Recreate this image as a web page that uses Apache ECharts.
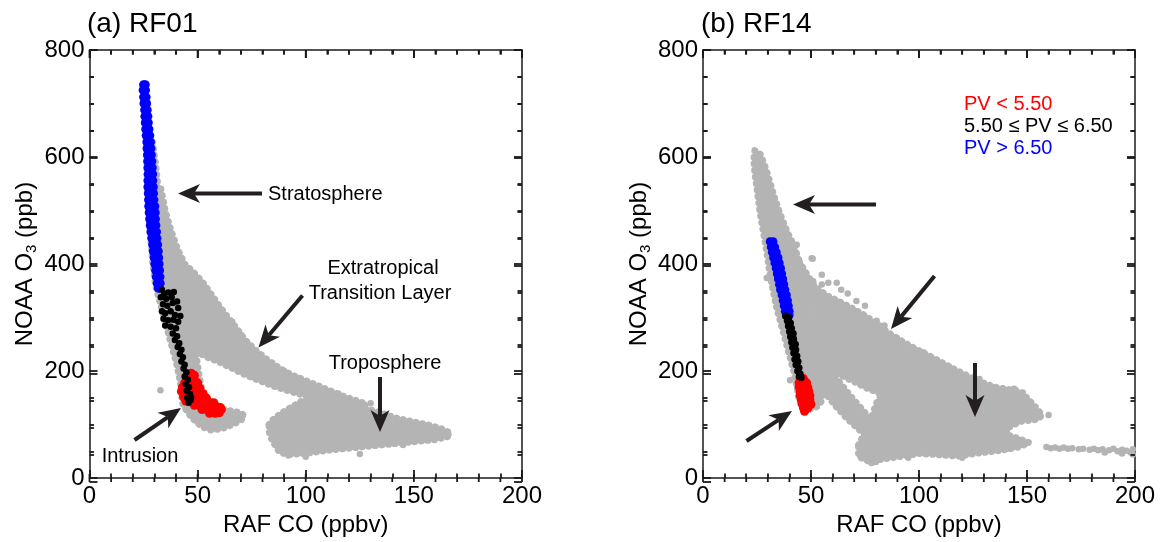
<!DOCTYPE html>
<html><head><meta charset="utf-8">
<script src="https://cdn.jsdelivr.net/npm/echarts/dist/echarts.min.js"></script>
<style>html,body{margin:0;padding:0;background:#fff}#c{width:1160px;height:542px}</style>
</head><body><div id="c"></div>
<script>
// ---------------- DATA ----------------
const panelTitles = ['(a) RF01', '(b) RF14'];
const xTickValues = [0, 50, 100, 150, 200];
const yTickValues = [0, 200, 400, 600, 800];
const legendLabels = ['PV < 5.50', '5.50 \u2264 PV \u2264 6.50', 'PV > 6.50'];

// RF01: dense gray clouds (outline vertices, CO ppbv / O3 ppb)
const rf01GrayStrip = [[26.5,650],[26.5,600],[26.8,550],[27.3,500],[28.3,450],[29.3,400],[30.5,360],[32.5,330],[34.5,300],[36.5,270],[38.5,240],[40.5,210],[42,180],[42.5,160],[43,140],[45,125],[48,110],[52,96],[56,90],[61,92],[66,100],[70,108],[71.5,116],[70,122],[65,126],[61,130],[58,140],[54,150],[52,165],[51,185],[50,210],[49,240],[47,270],[45,300],[43,330],[40,360],[37,390],[35,430],[33.5,470],[32.5,510],[31.5,550],[30.5,590],[29,630]];
const rf01GrayETL = [[33,540],[35,500],[37.5,465],[40.5,430],[44,400],[48,385],[52,368],[56,345],[60,322],[64,300],[68,280],[72,258],[77,238],[82,222],[88,205],[94,192],[100,182],[106,172],[112,162],[118,152],[124,144],[128,138],[124,134],[116,140],[108,146],[100,154],[92,163],[85,172],[78,183],[71,195],[65,207],[60,217],[55,225],[50,235],[46,260],[42,300],[38,350],[35,400],[33,450],[31.5,500]];
const rf01GrayTropo = [[83,100],[85,110],[89,122],[94,134],[99,146],[104,150],[110,146],[116,140],[122,136],[128,130],[136,120],[142,112],[150,105],[157,99],[163,92],[166,86],[166,78],[160,72],[150,68],[140,64],[130,60],[120,56],[110,52],[100,46],[92,44],[88,48],[86,60],[84,75],[83,88]];
const rf01GrayDots = [[32.8,164],[66,292],[70,268],[73,249],[76,236],[80,222],[84.5,203],[90,200],[97,187],[108.4,163],[115,158],[122,144],[130,140],[140,110],[85,175],[95,162],[125,45],[145,62],[155,72],[160,80],[163,85],[166,82],[100,40],[92,42],[88,52],[120,125],[131,118],[148,100],[152,92],[44,390],[41,420],[38,455],[68,112],[71,118],[62,95]];
const rf01Blue = [[25.0,735],[25.8,735],[24.8,725],[25.9,725],[25.0,712],[26.2,712],[25.2,700],[26.4,700],[25.5,688],[26.7,688],[25.6,676],[27.0,676],[25.8,664],[27.2,664],[26.0,652],[27.5,652],[26.2,640],[27.9,640],[26.5,628],[28.2,628],[26.6,616],[28.4,616],[26.8,604],[28.6,604],[26.9,592],[28.8,592],[27.0,580],[29.0,580],[27.1,568],[29.2,568],[27.0,556],[28.5,556],[29.3,556],[27.0,544],[29.5,544],[27.2,532],[29.6,532],[27.3,520],[28.4,520],[29.8,520],[27.4,508],[30.2,508],[27.6,496],[30.4,496],[29.0,490],[27.8,484],[30.5,484],[28.1,472],[30.7,472],[28.4,460],[29.6,460],[31.0,460],[28.8,448],[31.2,448],[29.2,436],[31.5,436],[30.3,430],[29.5,424],[31.8,424],[29.9,412],[32.0,412],[30.2,400],[32.2,400],[30.6,388],[32.4,388],[30.9,376],[32.6,376],[31.3,364],[32.7,364],[31.8,355],[32.4,355]];
const rf01Black = [[33.5,352],[34.5,345],[36.5,347],[39,348],[33,338],[35.5,335],[38,338],[40.5,330],[34,325],[36,322],[38.5,327],[41,318],[33.5,312],[35,308],[37.5,312],[39.5,305],[42,303],[34.2,298],[36.3,295],[38.8,296],[41,292],[35,285],[37.5,283],[40,280],[38.5,270],[40.5,265],[39.5,258],[41.5,252],[40.8,245],[42.5,240],[41.8,232],[43.2,226],[42.5,218],[44,212],[43.5,205],[44.8,198],[44,190],[45.5,184],[44.5,176],[46,170],[45,163],[46.5,157],[45.2,150],[46.8,146],[45.8,141],[47,150]];
const rf01Red = [[47,196],[48.5,192],[46.5,185],[48.5,183],[50,178],[44,178],[47.5,175],[49.5,170],[51,168],[43,170],[45.5,168],[42.5,162],[44.5,160],[48,162],[50.5,160],[52.5,158],[43.5,152],[46,150],[49,152],[51.5,150],[54,150],[44.5,144],[47.5,142],[50,142],[52.5,142],[55,143],[57.5,141],[48.5,136],[51,135],[53.5,135],[56,134],[58.5,134],[60.5,132],[52,128],[54.5,127],[57,127],[59.5,127],[61,128],[55.5,121],[58,121],[60,122]];

// RF14
const rf14GrayStrip = [[24,612],[23.5,595],[24,570],[25,540],[26.3,500],[27.5,470],[28.8,440],[30,410],[31,380],[32.5,350],[34,320],[36,290],[38,260],[40,230],[42,200],[43.5,170],[44.5,145],[46,132],[49,128],[53,134],[55,145],[55,160],[54.5,190],[53.5,225],[52.5,260],[51,295],[49.5,330],[47.5,365],[45,400],[42,435],[39,460],[36,490],[33,525],[30.5,560],[28.5,585],[26.5,605]];
const rf14GrayMid = [[43,415],[46,395],[49,375],[52,357],[57,342],[62,332],[68,320],[74,306],[80,290],[86,271],[92,256],[99,240],[105,228],[111,215],[117,202],[123,190],[129,179],[135,170],[141,166],[146,162],[147,150],[140,145],[130,142],[120,142],[110,146],[100,150],[90,153],[82,158],[76,168],[70,180],[65,190],[61,197],[57,205],[54,220],[53,260],[52,320],[48,360],[45,392]];
const rf14GrayLow = [[53,200],[58,200],[62,185],[66,165],[70,145],[75,122],[80,100],[86,80],[88,70],[84,62],[78,70],[73,88],[67,110],[62,132],[58,152],[55,170]];
const rf14GrayTropo = [[72,62],[75,85],[78,110],[80,138],[83,158],[90,160],[100,158],[110,158],[120,152],[128,150],[134,152],[140,160],[145,165],[150,150],[154,132],[157,118],[155,110],[147,106],[142,96],[140,82],[146,74],[151,66],[146,58],[138,52],[128,47],[118,41],[108,44],[100,46],[92,41],[84,36],[77,31],[72,40]];
const rf14GrayDots = [[43.4,436],[50.3,411],[55,380],[61.9,365],[36.4,457],[29.5,374],[40.3,183],[33,521],[50.8,410],[43.3,395],[51,368],[55,362],[58,365],[64,352],[67,345],[71,331],[75,322],[80.4,294],[84,285],[89.7,262],[102,235],[114,207],[128,185],[134,170],[160,118],[138,162],[144,167],[148,160],[152,132],[156,116],[148,65],[142,55],[120,38],[95,38],[80,30],[78,28],
  [159,58],[161,56],[163,57],[165,55],[167,57],[169,55],[171,56],[174,54],[176,55],[179,53],[181,55],[183,52],[185,54],[188,52],[190,55],[192,50],[194,53],[196,51],[198,48],[199,54],[199,44],[194,46],[186,48]];
const rf14Blue = [[31,442],[32.5,442],[31.5,432],[33.3,432],[32,422],[34,422],[32.6,412],[34.8,412],[33.2,402],[35.4,402],[33.8,392],[36,392],[34.3,382],[36.5,382],[34.8,372],[37,372],[35.3,362],[37.5,362],[35.8,352],[38,352],[36.5,342],[38.7,342],[37,332],[39.2,332],[37.5,322],[39.6,322],[38,312],[40,312],[38.5,305],[40,305]];
const rf14Black = [[38.2,303],[39.8,300],[39,294],[40.5,290],[39.5,284],[41,280],[40,274],[41.8,270],[40.5,264],[42,260],[41,254],[42.8,250],[41.5,244],[43,240],[42,234],[43.5,228],[42.5,222],[44,218],[43,212],[44.5,206],[43.8,200],[45,195],[44.5,190],[45.5,188]];
const rf14Red = [[45,186],[46.5,186],[44.5,178],[46.5,178],[48,178],[44.5,170],[46.5,170],[48.5,170],[45,162],[47,162],[49,162],[45,154],[47,154],[49.5,154],[45.5,146],[47.5,146],[49.5,146],[46,138],[48,138],[50,138],[46.5,131],[48.5,131],[47,125]];

// ---------------- CHART ----------------
const FONT = '"Liberation Sans", Arial, Helvetica, sans-serif';
const INK = '#1a1a1a';
const GRAY = '#b4b4b4';
const grids = [
  {left: 89.5, top: 50, width: 432.5, height: 432},
  {left: 703, top: 50, width: 432, height: 432}
];
const chart = echarts.init(document.getElementById('c'), null, {renderer: 'canvas'});

const xAxes = [], yAxes = [];
grids.forEach((g, gi) => {
  const mk = (extra) => Object.assign({
    type: 'value', gridIndex: gi,
    axisLine: {show: true, onZero: false, lineStyle: {color: INK, width: 1.5}},
    axisTick: {show: true, inside: true, length: 8, lineStyle: {color: INK, width: 1.8}},
    splitLine: {show: false}
  }, extra);
  ['bottom', 'top'].forEach(pos => xAxes.push(mk({
    position: pos, min: xTickValues[0], max: xTickValues[xTickValues.length - 1], interval: 50,
    minorTick: {show: true, splitNumber: 5, length: 4.5, lineStyle: {color: INK, width: 1.8}},
    axisLabel: {show: pos === 'bottom', fontSize: 24, color: '#000', fontFamily: FONT, margin: 6},
    name: pos === 'bottom' ? 'RAF CO (ppbv)' : '', nameLocation: 'middle', nameGap: 30,
    nameTextStyle: {fontSize: 24, color: '#000', fontFamily: FONT}
  })));
  ['left', 'right'].forEach(pos => yAxes.push(mk({
    position: pos, min: yTickValues[0], max: yTickValues[yTickValues.length - 1], interval: 200,
    minorTick: {show: true, splitNumber: 4, length: 4.5, lineStyle: {color: INK, width: 1.8}},
    axisLabel: {show: pos === 'left', fontSize: 24, color: '#000', fontFamily: FONT, margin: 5},
    name: pos === 'left' ? '{t|NOAA O}{s|3}{t| (ppb)}' : '', nameLocation: 'middle', nameRotate: 90, nameGap: 50,
    nameTextStyle: {color: '#000', fontFamily: FONT, rich: {
      t: {fontSize: 24, fontFamily: FONT, color: '#000', lineHeight: 28},
      s: {fontSize: 15, fontFamily: FONT, color: '#000', lineHeight: 14, verticalAlign: 'bottom'}
    }}
  })));
});

function polySeries(gi, polys) {
  return {
    type: 'custom', xAxisIndex: gi * 2, yAxisIndex: gi * 2, silent: true, z: 1,
    data: polys.map(p => p[0]),
    renderItem: (params, api) => {
      const pts = polys[params.dataIndex].map(p => api.coord(p));
      return {type: 'group', children: [
        {type: 'polygon', shape: {points: pts}, style: {fill: GRAY, stroke: GRAY, lineWidth: 3, lineJoin: 'round'}},
        {type: 'polygon', shape: {points: pts}, style: {fill: null, stroke: GRAY, lineWidth: 7, lineCap: 'round', lineDash: [0.1, 6.5]}}
      ]};
    }
  };
}
function scat(gi, data, color, size, z) {
  return {type: 'scatter', xAxisIndex: gi * 2, yAxisIndex: gi * 2, data, symbol: 'circle', symbolSize: size,
    itemStyle: {color, opacity: 1}, silent: true, z};
}

const series = [
  polySeries(0, [rf01GrayStrip, rf01GrayETL, rf01GrayTropo]),
  scat(0, rf01GrayDots, GRAY, 6.5, 2),
  scat(0, rf01Blue, '#0000ff', 9, 3),
  scat(0, rf01Red, '#ff0000', 9, 4),
  scat(0, rf01Black, '#000000', 6.5, 5),
  polySeries(1, [rf14GrayStrip, rf14GrayMid, rf14GrayLow, rf14GrayTropo]),
  scat(1, rf14GrayDots, GRAY, 6.5, 2),
  scat(1, rf14Blue, '#0000ff', 8.5, 3),
  scat(1, rf14Red, '#ff0000', 9, 4),
  scat(1, rf14Black, '#000000', 7, 5)
];

// annotations (pixel layout)
const ARROW = '#231f20';
function arrow(x1, y1, x2, y2) {
  const dx = x2 - x1, dy = y2 - y1, L = Math.hypot(dx, dy), ux = dx / L, uy = dy / L, px = -uy, py = ux;
  const hl = 22, hw = 9.5, notch = 16;
  const bx = x2 - ux * hl, by = y2 - uy * hl, nx = x2 - ux * notch, ny = y2 - uy * notch;
  return [
    {type: 'line', silent: true, z: 100, shape: {x1, y1, x2: nx, y2: ny}, style: {stroke: ARROW, lineWidth: 4}},
    {type: 'polygon', silent: true, z: 100, shape: {points: [[x2, y2], [bx + px * hw, by + py * hw], [nx, ny], [bx - px * hw, by - py * hw]]}, style: {fill: ARROW}}
  ];
}
function txt(text, x, y, size, color, align) {
  return {type: 'text', silent: true, z: 100, style: {text, x, y, fill: color || '#000', font: size + 'px ' + FONT,
    textAlign: align || 'center', textVerticalAlign: 'middle', verticalAlign: 'middle'}};
}

// inward ticks on all four sides (axis furniture) as filled rects along each grid edge
const tickEls = [];
function tickRect(x, y, w, h) {
  return {type: 'rect', silent: true, z: 90, shape: {x, y, width: w, height: h}, style: {fill: INK}};
}
grids.forEach(g => {
  const xmin = xTickValues[0], xmax = xTickValues[xTickValues.length - 1];
  const ymin = yTickValues[0], ymax = yTickValues[yTickValues.length - 1];
  const W = 1.8;
  for (let v = xmin; v <= xmax; v += 10) {
    const L = v % 50 === 0 ? 8 : 4.5;
    const px = g.left + (v - xmin) / (xmax - xmin) * g.width;
    tickEls.push(tickRect(px - W / 2, g.top + g.height - L, W, L), tickRect(px - W / 2, g.top, W, L));
  }
  for (let v = ymin; v <= ymax; v += 50) {
    const L = v % 200 === 0 ? 8 : 4.5;
    const py = g.top + g.height - (v - ymin) / (ymax - ymin) * g.height;
    tickEls.push(tickRect(g.left, py - W / 2, L, W), tickRect(g.left + g.width - L, py - W / 2, L, W));
  }
});

const graphic = [].concat(
  txt(panelTitles[0], 87, 24, 28, '#000', 'left'),
  txt(panelTitles[1], 701, 24, 28, '#000', 'left'),
  arrow(262, 193.5, 178, 193.5), txt('Stratosphere', 268, 194, 20, '#000', 'left'),
  arrow(302.5, 295.5, 258.5, 347.5), txt('Extratropical', 383, 268, 20), txt('Transition Layer', 380, 293, 20),
  arrow(380, 377, 380, 432), txt('Troposphere', 385, 363, 20),
  arrow(134.5, 440, 181, 408), txt('Intrusion', 140, 456, 20),
  arrow(876, 204.5, 793, 204.5),
  arrow(934.5, 276, 891, 329),
  arrow(975, 363, 975, 417),
  arrow(746.5, 441, 792, 411),
  txt(legendLabels[0], 964, 104, 20, '#ff0000', 'left'),
  txt(legendLabels[1], 964, 126, 20, '#000000', 'left'),
  txt(legendLabels[2], 964, 148, 20, '#0000ff', 'left'),
  tickEls
);

chart.setOption({
  animation: false, backgroundColor: '#fff',
  grid: grids, xAxis: xAxes, yAxis: yAxes, series, graphic
});
</script></body></html>
